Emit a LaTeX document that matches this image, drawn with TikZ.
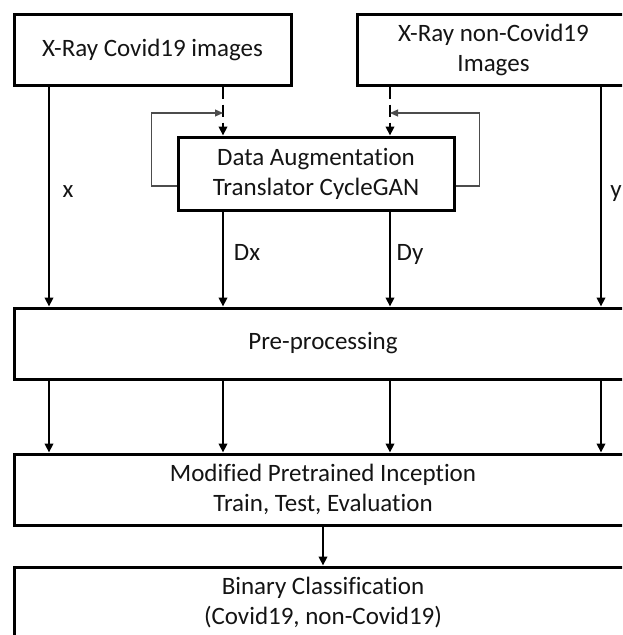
\documentclass[tikz,border=0pt]{standalone}
\usepackage{fontspec}
\setmainfont{Carlito}[Ligatures=CommonOff]
\usetikzlibrary{arrows.meta}
\begin{document}
\begin{tikzpicture}[x=1pt,y=-1pt,
  txt/.style={font=\fontsize{25}{30}\selectfont,text=black!92},
  box/.style={txt,draw,line width=3pt,rectangle,inner sep=0pt,align=center},
  lbl/.style={txt,anchor=base,inner sep=0pt},
  arr/.style={line width=2.4pt,-{Triangle[length=9pt,width=8.5pt]}},
  dasharr/.style={arr,dash pattern=on 12pt off 6pt},
  fb/.style={line width=1.1pt,black!70,-{Triangle[length=8pt,width=7pt]}}]
\useasboundingbox (0,0) rectangle (622,635);
\clip (0,0) rectangle (622,635);

% boxes
\node[box,minimum width=277pt,minimum height=71pt] (covid) at (152.5,49.5) {X-Ray Covid19 images};
\node[box,minimum width=273pt,minimum height=71pt] (noncovid) at (493.5,49.5) {X-Ray non-Covid19\\Images};
\node[box,minimum width=276pt,minimum height=73pt] (aug) at (316,173.5) {Data Augmentation\\Translator CycleGAN};
\node[box,minimum width=618pt,minimum height=71pt] (pre) at (323,343.5) {Pre-processing};
\node[box,minimum width=618pt,minimum height=71pt] (incep) at (323,489.5) {Modified Pretrained Inception\\Train, Test, Evaluation};
\node[box,minimum width=618pt,minimum height=71pt] (binary) at (323,602.5) {Binary Classification\\(Covid19, non-Covid19)};

% column positions
\coordinate (c1) at (49,0);
\coordinate (c2) at (223,0);
\coordinate (c3) at (390,0);
\coordinate (c4) at (601,0);

% direct inputs
\draw[arr] (covid.south -| c1) -- (pre.north -| c1);
\draw[arr] (noncovid.south -| c4) -- (pre.north -| c4);

% inputs to the augmentation stage
\draw[dasharr] (covid.south -| c2) -- (aug.north -| c2);
\draw[dasharr] (noncovid.south -| c3) -- (aug.north -| c3);

% CycleGAN feedback loops
\coordinate (fbl) at (223,113);
\coordinate (fbr) at (390,113);
\draw[fb] ([yshift=-12.5pt]aug.west) -- ++(-25,0) |- (fbl);
\draw[fb] ([yshift=-12.5pt]aug.east) -- ++(24,0) |- (fbr);

% augmented outputs
\draw[arr] (aug.south -| c2) -- (pre.north -| c2);
\draw[arr] (aug.south -| c3) -- (pre.north -| c3);

% pre-processing to classifier
\foreach \c in {c1,c2,c3,c4}
  \draw[arr] (pre.south -| \c) -- (incep.north -| \c);
\draw[arr] (incep.south) -- (binary.north);

% labels
\node[lbl] (lx) at (68,197) {x};
\node[lbl] (ly) at (616,197) {y};
\node[lbl] (ldx) at (247,260) {Dx};
\node[lbl] (ldy) at (410,260) {Dy};
\end{tikzpicture}
\end{document}
